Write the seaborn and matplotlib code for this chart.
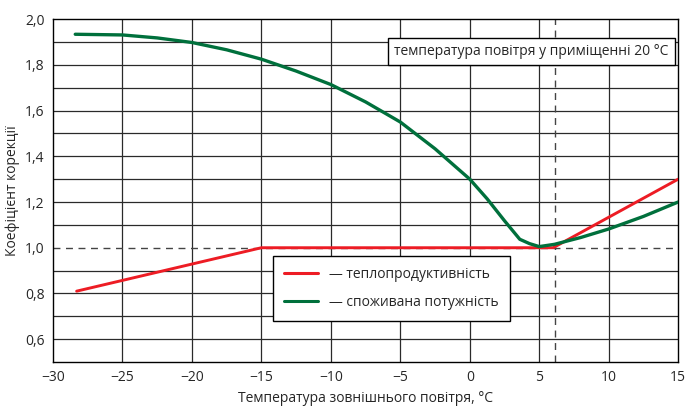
import matplotlib.pyplot as plt
import numpy as np
import pandas as pd
import seaborn as sns

# теплопродуктивність
heat_t = [-28.3, -15, 6.0, 15]
heat_k = [0.81, 1.0, 1.0, 1.30]

# споживана потужність
power_t = [-28.4, -25, -22.5, -20, -17.5, -15, -12.5, -10, -7.5, -5, -2.5, 0, 1.25, 2.5,
           3.6, 4.3, 5.0, 6.1, 8, 10, 12.5, 15]
power_k = [1.934, 1.931, 1.918, 1.898, 1.866, 1.825, 1.773, 1.714, 1.638, 1.55, 1.433, 1.30,
           1.214, 1.118, 1.037, 1.018, 1.005, 1.015, 1.045, 1.082, 1.137, 1.20]

labels = ["— теплопродуктивність", "— споживана потужність"]
colors = ["#ed1c24", "#00703c"]

heat = pd.DataFrame({"t": heat_t, "k": heat_k})
power = pd.DataFrame({"t": power_t, "k": power_k})

sns.set_style("white")
plt.rcParams["font.family"] = ["Open Sans", "DejaVu Sans"]

fig = plt.figure(figsize=(6.85, 4.08), dpi=100)
ax = fig.add_axes([0.0774, 0.1127, 0.9126, 0.8403])

# сітка
for x in range(-25, 15, 5):
    ax.axvline(x, color="#2a2a2a", lw=0.9, zorder=0)
for y in np.arange(0.6, 2.0, 0.1):
    if abs(y - 1.0) > 1e-6:
        ax.axhline(y, color="#2a2a2a", lw=0.9, zorder=0)
ax.axhline(1.0, color="#444444", lw=1.0, ls=(0, (5, 4)), zorder=0)
ax.axvline(6.1, color="#444444", lw=1.0, ls=(0, (5, 4)), zorder=0)

sns.lineplot(data=heat, x="t", y="k", sort=False, color=colors[0], linewidth=2.1,
             label=labels[0], ax=ax, zorder=3)
sns.lineplot(data=power, x="t", y="k", sort=False, color=colors[1], linewidth=2.4,
             label=labels[1], ax=ax, zorder=4)

ax.set_xlim(-30, 15)
ax.set_ylim(0.5, 2.0)
ax.set_xticks(range(-30, 16, 5))
ax.set_xticklabels([str(v).replace("-", "\u2212") for v in range(-30, 16, 5)])
ax.set_yticks(np.arange(0.6, 2.01, 0.2))
ax.set_yticklabels([f"{v:.1f}".replace(".", ",") for v in np.arange(0.6, 2.01, 0.2)])
ax.tick_params(length=0, labelsize=10, pad=6)
for s in ax.spines.values():
    s.set_color("black")
    s.set_linewidth(1.0)

ax.set_xlabel("Температура зовнішнього повітря, °C", fontsize=10)
ax.set_ylabel("Коефіцієнт корекції", fontsize=10)

leg = ax.legend(loc="lower left", bbox_to_anchor=(0.34, 0.10), frameon=True,
                fancybox=False, fontsize=10, handlelength=2.5, borderpad=0.8,
                labelspacing=0.9)
leg.get_frame().set_edgecolor("black")
leg.get_frame().set_linewidth(1.0)
leg.get_frame().set_alpha(1.0)
for h in leg.get_lines():
    h.set_linewidth(2.2)

ax.text(0.985, 0.905, "температура повітря у приміщенні 20 °C", transform=ax.transAxes,
        ha="right", va="center", fontsize=10, zorder=5,
        bbox=dict(boxstyle="square,pad=0.45", fc="white", ec="black", lw=1.0))

fig.savefig("out.png", dpi=100)
